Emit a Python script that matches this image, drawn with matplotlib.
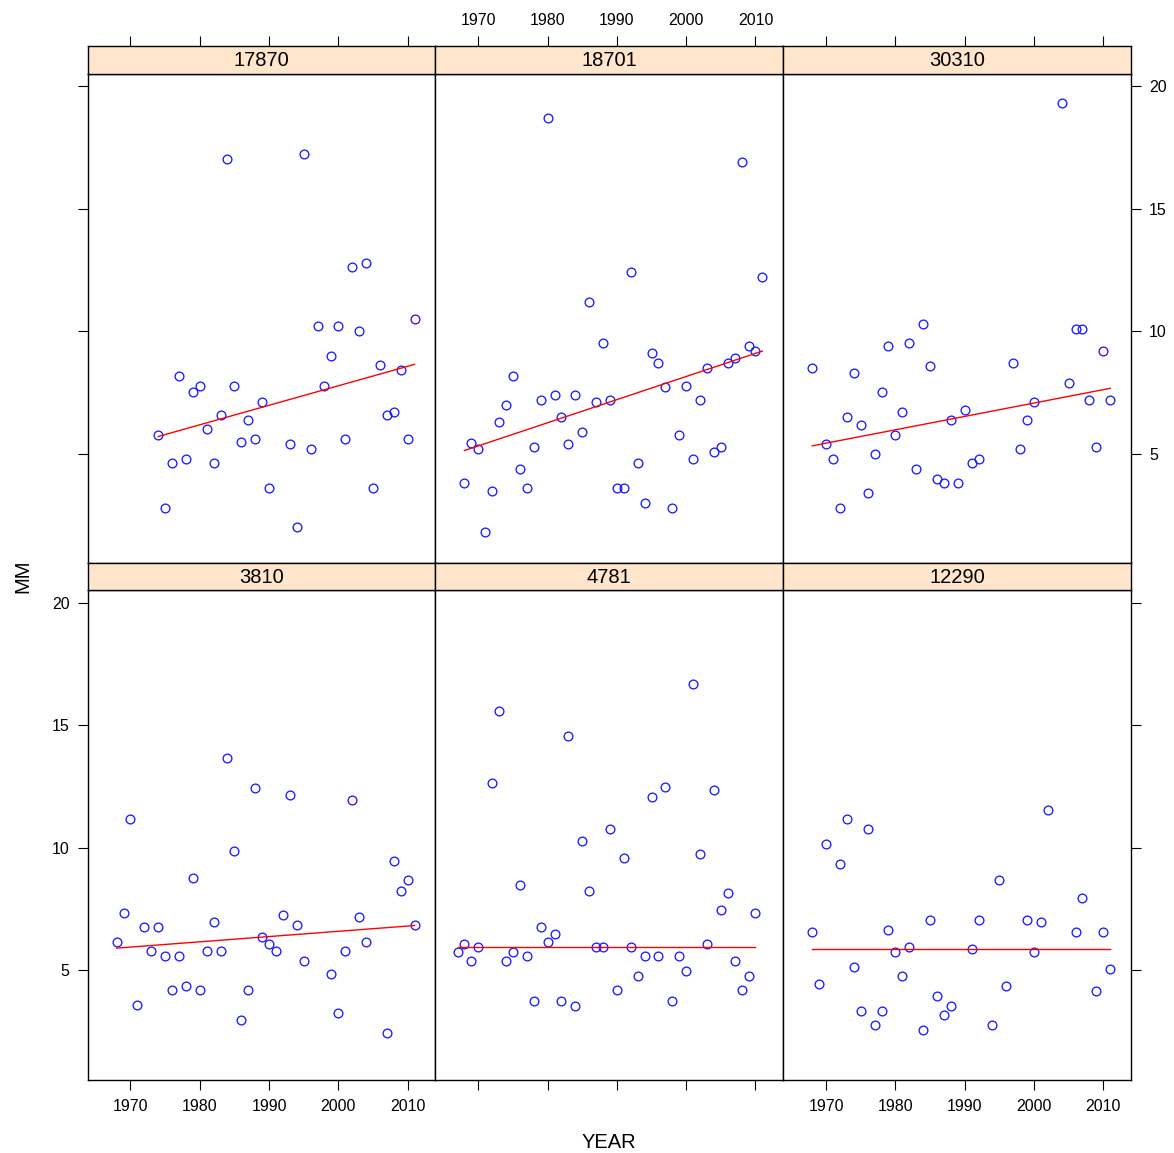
import numpy as np
import matplotlib
matplotlib.use("Agg")
import matplotlib.pyplot as plt

plt.rcParams['font.family'] = ['Liberation Sans', 'DejaVu Sans']

# ---- data ----
stations = ["3810", "4781", "12290", "17870", "18701", "30310"]

years_17870 = [1974, 1975, 1976, 1977, 1978, 1979, 1980, 1981, 1982, 1983, 1984, 1985,
               1986, 1987, 1988, 1989, 1990, 1993, 1994, 1995, 1996, 1997, 1998, 1999,
               2000, 2001, 2002, 2003, 2004, 2005, 2006, 2007, 2008, 2009, 2010, 2011]
mm_17870 = [5.77, 2.78, 4.60, 8.18, 4.78, 7.50, 7.77, 6.00, 4.60, 6.58, 17.02, 7.77,
            5.46, 6.38, 5.59, 7.09, 3.58, 5.39, 1.99, 17.22, 5.18, 10.19, 7.77, 8.99,
            10.19, 5.59, 12.60, 9.99, 12.80, 3.58, 8.60, 6.58, 6.68, 8.41, 5.59, 10.49]

years_18701 = [1968, 1969, 1970, 1971, 1972, 1973, 1974, 1975, 1976, 1977, 1978, 1979,
               1980, 1981, 1982, 1983, 1984, 1985, 1986, 1987, 1988, 1989, 1990, 1991,
               1992, 1993, 1994, 1995, 1996, 1997, 1998, 1999, 2000, 2001, 2002, 2003,
               2004, 2005, 2006, 2007, 2008, 2009, 2010, 2011]
mm_18701 = [3.78, 5.42, 5.18, 1.78, 3.48, 6.27, 6.98, 8.18, 4.37, 3.58, 5.28, 7.18,
            18.72, 7.39, 6.48, 5.39, 7.39, 5.89, 11.17, 7.09, 9.50, 7.18, 3.58, 3.58,
            12.40, 4.60, 2.97, 9.09, 8.68, 7.70, 2.78, 5.77, 7.77, 4.78, 7.18, 8.49,
            5.08, 5.28, 8.68, 8.90, 16.91, 9.40, 9.20, 12.22]

years_30310 = [1968, 1970, 1971, 1972, 1973, 1974, 1975, 1976, 1977, 1978, 1979, 1980,
               1981, 1982, 1983, 1984, 1985, 1986, 1987, 1988, 1989, 1990, 1991, 1992,
               1997, 1998, 1999, 2000, 2004, 2005, 2006, 2007, 2008, 2009, 2010, 2011]
mm_30310 = [8.49, 5.39, 4.78, 2.78, 6.48, 8.29, 6.18, 3.39, 4.98, 7.50, 9.40, 5.77,
            6.68, 9.50, 4.37, 10.31, 8.59, 3.96, 3.78, 6.38, 3.78, 6.79, 4.60, 4.78,
            8.68, 5.18, 6.38, 7.09, 19.31, 7.89, 10.08, 10.08, 7.18, 5.28, 9.20, 7.18]

years_3810 = [1968, 1969, 1970, 1971, 1972, 1973, 1974, 1975, 1976, 1977, 1978, 1979,
              1980, 1981, 1982, 1983, 1984, 1985, 1986, 1987, 1988, 1989, 1990, 1991,
              1992, 1993, 1994, 1995, 1999, 2000, 2001, 2002, 2003, 2004, 2007, 2008,
              2009, 2010, 2011]
mm_3810 = [6.16, 7.35, 11.16, 3.57, 6.77, 5.78, 6.77, 5.57, 4.19, 5.57, 4.36, 8.76,
           4.19, 5.78, 6.97, 5.78, 13.66, 9.87, 2.96, 4.19, 12.45, 6.36, 6.06, 5.78,
           7.27, 12.16, 6.86, 5.37, 4.87, 3.26, 5.78, 11.96, 7.17, 6.18, 2.46, 9.46,
           8.26, 8.67, 6.86]

years_4781 = [1967, 1968, 1969, 1970, 1972, 1973, 1974, 1975, 1976, 1977, 1978, 1979,
              1980, 1981, 1982, 1983, 1984, 1985, 1986, 1987, 1988, 1989, 1990, 1991,
              1992, 1993, 1994, 1995, 1996, 1997, 1998, 1999, 2000, 2001, 2002, 2003,
              2004, 2005, 2006, 2007, 2008, 2009, 2010]
mm_4781 = [5.77, 6.09, 5.37, 5.95, 12.65, 15.60, 5.37, 5.77, 8.47, 5.57, 3.75, 6.77,
           6.16, 6.47, 3.75, 14.58, 3.55, 10.27, 8.26, 5.95, 5.95, 10.78, 4.19, 9.58,
           5.95, 4.77, 5.57, 12.07, 5.57, 12.47, 3.75, 5.57, 4.97, 16.69, 9.76, 6.06,
           12.37, 7.45, 8.15, 5.37, 4.19, 4.77, 7.35]

years_12290 = [1968, 1969, 1970, 1972, 1973, 1974, 1975, 1976, 1977, 1978, 1979, 1980,
               1981, 1982, 1984, 1985, 1986, 1987, 1988, 1991, 1992, 1994, 1995, 1996,
               1999, 2000, 2001, 2002, 2006, 2007, 2009, 2010, 2011]
mm_12290 = [6.56, 4.46, 10.16, 9.35, 11.17, 5.16, 3.34, 10.78, 2.76, 3.34, 6.66, 5.77,
            4.76, 5.95, 2.56, 7.07, 3.95, 3.17, 3.55, 5.86, 7.07, 2.76, 8.67, 4.35,
            7.07, 5.77, 6.97, 11.56, 6.56, 7.96, 4.16, 6.56, 5.07]

x_ticks = [1970, 1980, 1990, 2000, 2010]
y_ticks = [5, 10, 15, 20]

# panel layout: (station, years, values, row, col) ; row 0 = top
panels = [
    ("17870", years_17870, mm_17870, 0, 0),
    ("18701", years_18701, mm_18701, 0, 1),
    ("30310", years_30310, mm_30310, 0, 2),
    ("3810", years_3810, mm_3810, 1, 0),
    ("4781", years_4781, mm_4781, 1, 1),
    ("12290", years_12290, mm_12290, 1, 2),
]


def sen_fit(x, y):
    """Theil-Sen slope with median intercept."""
    n = len(x)
    slopes = [(y[j] - y[i]) / (x[j] - x[i])
              for i in range(n) for j in range(i + 1, n) if x[j] != x[i]]
    b = np.median(slopes)
    a = np.median(y - b * x)
    return b, a


W, H = 1174, 1153
fig = plt.figure(figsize=(W / 100, H / 100), dpi=100)

left_px, right_px = 87.5, 1131.0
col_w = (right_px - left_px) / 3
rows_px = [(73.5, 563.0, 46.0), (590.0, 1080.0, 563.0)]  # panel top, panel bottom, strip top

XLIM = (1963.8, 2014.0)
YLIM = (0.53, 20.52)
TICKLEN = 7.0
FS_TICK = 11.5
LW = 1.0


def fr(x0, y0, x1, y1):
    return [x0 / W, 1 - y1 / H, (x1 - x0) / W, (y1 - y0) / H]


for name, yrs, vals, r, c in panels:
    ptop, pbot, stop = rows_px[r]
    x0 = left_px + c * col_w
    x1 = x0 + col_w
    ax = fig.add_axes(fr(x0, ptop, x1, pbot))
    ax.set_xlim(*XLIM)
    ax.set_ylim(*YLIM)
    yrs_a = np.array(yrs, dtype=float)
    vals_a = np.array(vals, dtype=float)
    ax.plot(yrs_a, vals_a, linestyle='none', marker='o', markersize=6.3,
            markerfacecolor='none', markeredgecolor='#1a1aff', markeredgewidth=0.95)
    b, a = sen_fit(yrs_a, vals_a)
    xl = np.array([yrs_a.min(), yrs_a.max()])
    ax.plot(xl, a + b * xl, color='red', lw=1.0)
    for s in ax.spines.values():
        s.set_linewidth(LW)
    ax.set_xticks(x_ticks)
    ax.set_yticks(y_ticks)
    ax.tick_params(direction='out', length=TICKLEN, width=0.8, labelsize=FS_TICK,
                   top=False, labeltop=False)
    if r == 1:
        ax.tick_params(axis='x', bottom=True, labelbottom=(c != 1), pad=7)
    else:
        ax.tick_params(axis='x', bottom=False, labelbottom=False)
    ax.tick_params(axis='y', left=(c == 0), labelleft=(c == 0 and r == 1),
                   right=(c == 2), labelright=(c == 2 and r == 0), pad=6)

    # strip
    sax = fig.add_axes(fr(x0, stop, x1, ptop))
    sax.set_facecolor('#ffe5cc')
    sax.set_xlim(*XLIM)
    sax.set_ylim(0, 1)
    for s in sax.spines.values():
        s.set_linewidth(LW)
    sax.set_yticks([])
    sax.text(0.5, 0.48, name, transform=sax.transAxes, ha='center', va='center',
             fontsize=14.5)
    if r == 0:
        sax.set_xticks(x_ticks)
        sax.tick_params(axis='x', direction='out', length=TICKLEN, width=0.8,
                        labelsize=FS_TICK, bottom=False, labelbottom=False,
                        top=True, labeltop=(c == 1), pad=6)
    else:
        sax.set_xticks([])

fig.text(609 / W, 1 - 1142 / H, "YEAR", ha='center', va='center', fontsize=14.5)
fig.text(23 / W, 1 - 576 / H, "MM", ha='center', va='center', rotation=90, fontsize=14.5)

fig.savefig("out.png", dpi=100)
